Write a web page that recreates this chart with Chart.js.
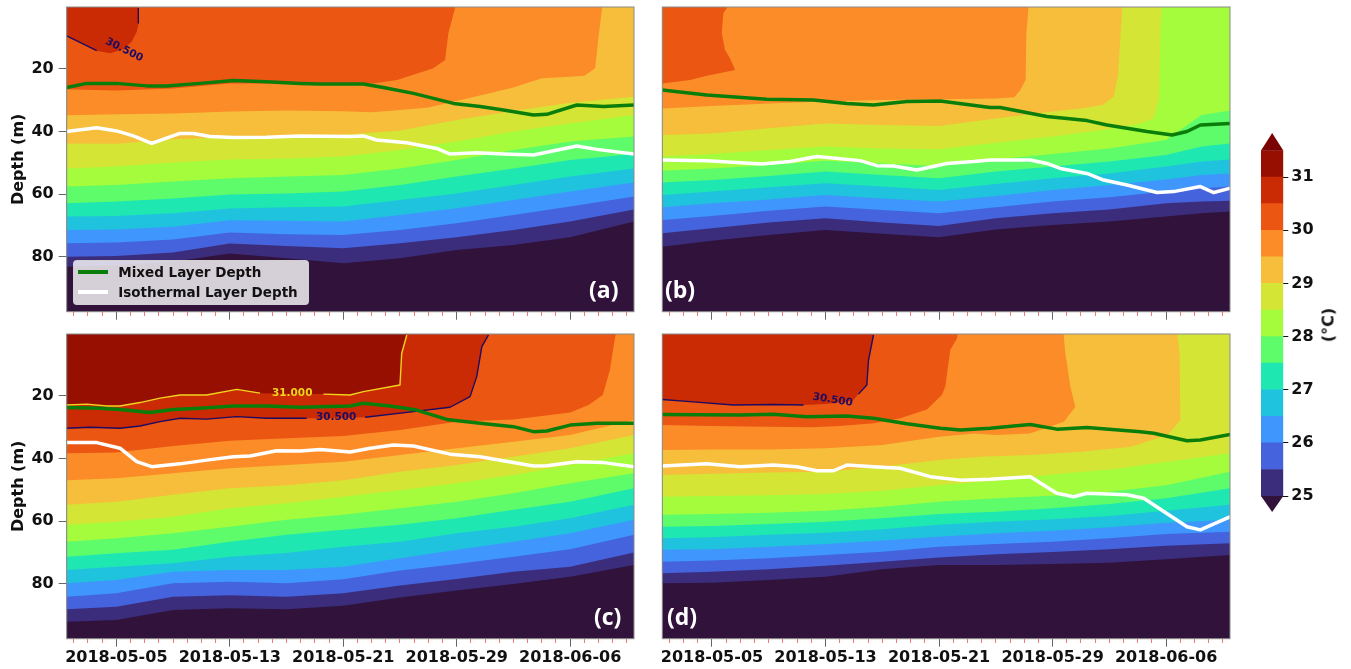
<!DOCTYPE html>
<html lang="en">
<head>
<meta charset="utf-8" />
<title>Temperature sections</title>
<script src="https://cdn.jsdelivr.net/npm/chart.js@4.4.1/dist/chart.umd.min.js"></script>
<style>
  * { margin: 0; padding: 0; box-sizing: border-box; }
  body { width: 1351px; height: 669px; overflow: hidden; position: relative; background: #fff; font-family: "DejaVu Sans", sans-serif; }
  .box { position: absolute; }
  .tag { position: absolute; color: #fff; font: 700 23px "Open Sans", sans-serif; line-height: 24px; z-index: 3; }
  #legend { position: absolute; left: 72.7px; top: 260px; width: 236px; height: 45px; background: rgba(255,255,255,0.8);
            border: 1px solid rgba(210,210,210,0.9); border-radius: 4px; z-index: 3; }
  #legend .ln { position: absolute; left: 4px; width: 30px; height: 4px; }
  #legend .tx { position: absolute; left: 44.6px; font: bold 13.5px "DejaVu Sans"; line-height: 16px; color: #111; white-space: nowrap; }
  #cblabel { position: absolute; left: 1328px; top: 325px; transform: translate(-50%, -50%) rotate(-90deg);
             font: bold 16px "DejaVu Sans"; color: #111; white-space: nowrap; }
</style>
</head>
<body>
<div class="box" style="left:0;top:0"><canvas id="pa" width="660" height="330"></canvas></div>
<div class="box" style="left:640px;top:0"><canvas id="pb" width="620" height="330"></canvas></div>
<div class="box" style="left:0;top:320px"><canvas id="pc" width="660" height="349"></canvas></div>
<div class="box" style="left:640px;top:320px"><canvas id="pd" width="620" height="349"></canvas></div>
<div class="box" style="left:1240px;top:120px"><canvas id="cbar" width="111" height="410"></canvas></div>
<div id="legend"></div>
<div class="tag" style="left:589px;top:277px">(a)</div>
<div class="tag" style="left:665px;top:277px">(b)</div>
<div class="tag" style="left:594px;top:604px">(c)</div>
<div class="tag" style="left:667px;top:604px">(d)</div>
<div id="cblabel">(°C)</div>

<script>
// contour levels (°C) and their fill colours (turbo)
const levels = [25, 25.5, 26, 26.5, 27, 27.5, 28, 28.5, 29, 29.5, 30, 30.5, 31];
const bandColors = ['#3b2d7c', '#4563dc', '#3f96fc', '#20c3dd', '#1ee7b1', '#5efc6a', '#a4fc3c',
                    '#d4e535', '#f6be3a', '#fb8c27', '#eb5613', '#ca2b04', '#960f01'];
const underColor = '#30123b';
const overColor = '#7a0403';
const contourColors = { 30.5: '#1d0b63', 31: '#f2d41c' };
const mldColor = '#0b7d0b';

// x = day number, day 0 = 2018-05-01
const majorDays = [4, 12, 20, 28, 36];
const dateLabels = ['2018-05-05', '2018-05-13', '2018-05-21', '2018-05-29', '2018-06-06'];
const tickDays = [];
for (let d = 1; d <= 40; d++) tickDays.push(d);
const depthTicks = [20, 40, 60, 80];
const cbarTicks = [25, 26, 27, 28, 29, 30, 31];

const X_MIN = 0.5, X_MAX = 40.5, Y_MIN = 0.18, Y_MAX = 97.6;

const gridDays = [0.5, 4, 8, 12, 16, 20, 24, 28, 32, 36, 40.5];
const gridDaysB = [0.5, 4, 8, 12, 16, 20, 24, 28, 32, 36, 38.5, 40.5];
function pairs(days, depths) { return depths.map((d, i) => [days[i], d]); }

// isotherm depths (m), one row per level (25 ... 31), [day, depth]
const isoA = [
  pairs(gridDays, [83.2, 82.7, 81.6, 79.0, 80.5, 82.1, 80.5, 77.9, 76.3, 73.8, 68.8]),
  pairs(gridDays, [80.0, 79.8, 78.7, 75.8, 76.6, 77.3, 75.7, 73.8, 71.5, 68.8, 64.9]),
  pairs(gridDays, [75.7, 75.5, 74.5, 72.3, 72.8, 73.1, 71.5, 69.3, 66.7, 64.0, 60.8]),
  pairs(gridDays, [71.5, 71.3, 70.4, 68.4, 68.5, 68.8, 66.7, 64.5, 61.9, 59.2, 56.3]),
  pairs(gridDays, [67.2, 67.0, 66.1, 64.6, 64.2, 64.0, 61.9, 59.8, 57.1, 54.4, 51.8]),
  pairs(gridDays, [62.9, 62.4, 61.4, 60.1, 59.8, 59.2, 57.1, 54.4, 51.8, 49.1, 47.2]),
  pairs(gridDays, [57.6, 57.1, 56.0, 54.9, 54.4, 53.9, 51.8, 49.1, 45.9, 43.2, 41.6]),
  pairs(gridDays, [51.8, 51.2, 49.9, 48.9, 48.6, 48.0, 45.9, 43.2, 40.0, 37.4, 34.7]),
  pairs(gridDays, [43.8, 43.9, 42.5, 41.8, 41.5, 41.0, 39.7, 36.3, 33.4, 30.8, 28.9]),
  [[0.5,34.8],[4,34.5],[8,34.2],[12,33.6],[16,33.3],[20,33.5],[22,33.8],[24,33.1],[26,32.3],[28,30.2],
   [30,28.1],[32,25.9],[34,23.0],[36,22.5],[37,22.2],[37.76,19.8],[38.0,9.7],[38.25,0.5]],
  [[0.5,26.5],[4,26.9],[8,26.2],[12,24.6],[16,24.6],[20,24.6],[22.1,24.6],[23.8,23.5],[26.35,19.8],
   [27.18,17.1],[27.41,8.6],[27.88,0.5]],
  [[0.5,9.45],[2.62,14.15],[3.55,14.98],[4.49,13.7],[5.08,11.27],[5.44,8.08],[5.58,5.29],[5.55,0.5]],
  []
];
const isoB = [
  pairs(gridDaysB, [76.8, 74.9, 73.1, 71.5, 72.7, 73.8, 71.3, 69.9, 68.8, 67.2, 66.1, 65.6]),
  pairs(gridDaysB, [72.5, 70.9, 69.1, 67.7, 69.1, 70.2, 67.7, 66.1, 64.9, 62.9, 62.4, 62.1]),
  pairs(gridDaysB, [68.3, 67.0, 65.3, 64.0, 65.1, 66.1, 64.2, 62.4, 61.0, 59.2, 58.1, 57.6]),
  pairs(gridDaysB, [64.2, 62.9, 61.7, 60.3, 61.4, 62.4, 60.6, 58.7, 57.1, 55.3, 53.9, 53.4]),
  pairs(gridDaysB, [60.3, 59.2, 57.8, 56.5, 57.6, 58.7, 56.8, 54.9, 53.4, 51.2, 49.6, 48.9]),
  pairs(gridDaysB, [56.3, 55.5, 54.2, 52.8, 53.9, 54.9, 52.8, 51.2, 49.6, 47.5, 44.8, 43.8]),
  pairs(gridDaysB, [52.5, 51.8, 50.7, 49.3, 50.2, 51.0, 48.9, 47.2, 45.4, 42.7, 34.7, 33.3]),
  [[0.5,48.0],[4,47.2],[8,45.9],[12,44.8],[16,45.4],[20,45.7],[24,43.55],[28,41.6],[32,39.3],
   [34.2,37.4],[35.1,35.8],[35.5,29.9],[35.6,8.6],[35.7,0.5]],
  [[0.5,41.1],[4,40.6],[8,38.97],[12,37.4],[16,37.9],[20,38.2],[24,35.8],[26,34.7],[28,33.6],[30,32.6],
   [31.5,31.5],[32.3,28.85],[32.6,22.5],[32.8,8.6],[32.9,0.5]],
  [[0.5,32.6],[4,31.8],[8,31.0],[12,30.4],[16,29.9],[20,29.7],[24,29.4],[25.3,29.0],[25.7,26.9],
   [26.1,23.5],[26.15,8.6],[26.3,0.5]],
  [[0.5,24.6],[2.45,23.5],[3.63,22.2],[5.63,20.3],[5.27,16.6],[4.92,13.9],[4.69,8.6],[4.8,2.2],[5.04,0.5]],
  [],
  []
];
const isoC = [
  pairs(gridDays, [92.2, 91.6, 88.4, 87.9, 88.2, 87.1, 84.4, 82.2, 80.1, 77.8, 74.0]),
  pairs(gridDays, [88.2, 87.4, 84.2, 83.7, 84.2, 83.1, 80.6, 78.5, 76.2, 74.6, 70.0]),
  pairs(gridDays, [84.2, 83.1, 79.9, 79.4, 79.9, 78.6, 75.8, 73.7, 71.4, 69.0, 64.4]),
  pairs(gridDays, [79.9, 78.8, 76.2, 75.6, 75.6, 74.6, 71.9, 69.2, 66.6, 63.9, 59.6]),
  pairs(gridDays, [75.6, 74.6, 73.5, 71.4, 70.2, 68.2, 66.6, 63.9, 61.8, 59.1, 54.8]),
  pairs(gridDays, [71.4, 70.3, 69.2, 66.6, 64.4, 62.8, 61.2, 59.1, 56.4, 53.8, 49.5]),
  pairs(gridDays, [66.6, 65.5, 63.9, 61.8, 59.6, 58.0, 55.9, 53.8, 51.1, 47.9, 44.7]),
  pairs(gridDays, [61.2, 60.2, 58.6, 55.9, 54.3, 52.2, 50.1, 47.9, 45.3, 42.1, 38.3]),
  pairs(gridDays, [54.8, 53.8, 51.6, 49.5, 48.5, 46.9, 44.2, 42.1, 39.4, 36.7, 32.5]),
  pairs(gridDays, [46.9, 46.3, 44.7, 43.1, 42.1, 41.0, 38.9, 36.7, 34.6, 32.5, 27.7]),
  [[0.5,38.3],[4,38.1],[8,36.0],[12,34.3],[16,33.5],[20,32.8],[24,30.9],[28,28.2],[32,27.5],[36,25.3],
   [37.3,22.9],[38.3,19.7],[38.8,11.7],[39.17,1.0],[39.2,0.5]],
  [[0.5,30.3],[2.15,30.0],[4.26,30.3],[5.67,29.6],[7.08,28.2],[8.49,27.1],[10.37,27.4],[12.49,26.6],
   [14.6,27.1],[17.42,27.1],[19.5,27.0],[21.54,26.8],[24.95,25.0],[27.53,23.6],[28.94,20.2],[29.41,13.8],
   [29.77,4.2],[30.24,0.5]],
  [[0.5,22.9],[1.91,22.6],[3.32,23.2],[4.26,23.2],[5.67,22.1],[7.08,20.7],[8.49,19.7],[10.37,19.7],
   [12.49,17.9],[14.13,19.1],[16.2,19.3],[18.6,19.4],[20.48,19.7],[21.42,18.6],[24.0,16.5],[24.12,6.4],
   [24.48,0.5]]
];
const isoD = [
  pairs(gridDays, [79.9, 79.7, 78.8, 77.8, 75.4, 74.0, 74.0, 73.7, 73.3, 72.2, 70.8]),
  pairs(gridDays, [76.7, 76.2, 75.4, 74.3, 73.0, 71.6, 70.6, 69.9, 69.0, 67.9, 67.1]),
  pairs(gridDays, [73.0, 72.6, 71.9, 70.8, 69.8, 68.2, 67.3, 66.6, 65.5, 64.1, 63.4]),
  pairs(gridDays, [69.2, 69.0, 68.2, 67.3, 66.2, 65.0, 63.9, 63.1, 62.0, 60.5, 59.6]),
  pairs(gridDays, [65.5, 65.2, 64.4, 63.7, 62.6, 61.2, 60.2, 59.4, 58.4, 56.7, 54.8]),
  pairs(gridDays, [61.8, 61.6, 60.9, 60.2, 59.1, 57.7, 57.0, 55.9, 54.5, 52.7, 49.5]),
  pairs(gridDays, [58.0, 57.7, 57.3, 56.7, 55.4, 53.8, 52.7, 51.9, 50.6, 48.5, 44.2]),
  pairs(gridDays, [52.2, 52.0, 51.7, 51.3, 50.3, 48.5, 47.0, 45.1, 43.5, 41.1, 38.3]),
  [[0.5,45.3],[4,44.9],[8,44.5],[12,44.2],[16,42.6],[20,40.5],[22.9,39.4],[26.4,38.9],[30,37.8],
   [33.5,36.2],[36.1,32.5],[37.0,27.7],[36.95,6.4],[36.8,0.5]],
  [[0.48,37.3],[4,37.1],[8,37.1],[12,36.7],[16,35.7],[20,33.0],[22.5,32.0],[24,32.5],[26.4,32.0],
   [28.8,28.2],[29.6,23.4],[29.25,17.0],[28.9,6.4],[28.78,0.5]],
  [[0.48,29.3],[4,29.6],[8,29.8],[11,30.0],[13,29.6],[15.4,28.7],[17.26,27.1],[19.14,24.3],[20.2,19.7],
   [20.44,17.0],[20.79,5.3],[21.26,1.6],[21.3,0.5]],
  [[0.48,21.1],[2.45,21.8],[5.51,22.9],[8.33,22.7],[10.45,22.9],[12.0,22.6],[13.9,21.6],[14.32,19.4],
   [14.91,16.5],[15.03,8.5],[15.38,0.5]],
  []
];

// mixed layer depth (m)
const mldA = [[0.5,25.9],[1.91,24.6],[4.03,24.6],[6.14,25.4],[7.55,25.4],[9.9,24.6],[12.25,23.7],[14.6,24.05],
  [16.96,24.6],[18.37,24.8],[21.42,24.8],[22.83,25.9],[24.95,27.8],[27.77,31.0],[29.65,32.0],[31.29,33.1],
  [33.41,34.7],[34.35,34.5],[36.47,31.5],[38.35,32.0],[40.5,31.5]];
const mldB = [[0.48,26.7],[3.63,28.3],[7.86,29.7],[11.15,29.9],[13.5,31.0],[15.38,31.5],[17.73,30.4],
  [20.08,30.2],[23.6,32.3],[24.31,32.3],[27.6,35.2],[30.42,36.5],[31.83,37.9],[34.65,40.0],[36.42,41.1],
  [37.47,40.0],[38.41,37.9],[40.53,37.4]];
const mldC = [[0.5,23.7],[2.85,23.9],[4.26,24.3],[6.38,25.3],[8.02,24.3],[9.9,23.9],[12.25,23.2],[14.6,23.2],
  [16.96,23.6],[20.48,23.2],[21.42,22.3],[23.3,23.2],[25.18,24.5],[27.3,27.5],[29.65,28.7],[32.0,29.8],
  [33.41,31.4],[34.35,31.2],[36.0,29.3],[37.88,28.7],[40.5,28.7]];
const mldD = [[0.48,25.9],[5.98,26.1],[8.33,25.8],[10.68,26.6],[13.5,26.4],[15.38,27.1],[17.73,28.9],
  [20.08,30.3],[21.5,30.9],[23.6,30.3],[25.25,29.6],[26.43,29.1],[28.3,30.6],[30.42,30.1],[34.18,31.4],
  [35.12,31.9],[37.47,34.3],[38.41,34.1],[40.53,32.3]];

// isothermal layer depth (m)
const ildA = [[0.5,40.0],[2.62,38.8],[4.03,39.8],[5.2,41.4],[6.49,43.8],[8.49,40.6],[9.43,40.6],[10.61,41.6],
  [12.25,41.9],[14.6,41.8],[16.96,41.4],[20.48,41.6],[21.42,41.4],[22.36,42.7],[24.48,43.6],[26.59,45.4],
  [27.53,47.2],[29.41,46.8],[31.29,47.2],[33.41,47.5],[36.47,44.6],[37.88,45.7],[40.5,47.2]];
const ildB = [[0.48,49.1],[3.63,49.3],[7.51,50.4],[9.5,49.6],[11.39,48.0],[14.44,49.3],[15.62,50.9],
  [16.8,51.0],[18.44,52.3],[20.55,50.2],[22.43,49.6],[23.6,49.1],[26.43,49.1],[27.6,50.2],[28.54,51.8],
  [30.42,53.4],[31.6,55.5],[33.24,57.1],[35.36,59.5],[36.53,59.2],[38.41,57.6],[39.36,59.5],[40.53,58.1]];
const ildC = [[0.5,34.9],[2.62,34.9],[4.26,36.7],[5.44,41.0],[6.49,42.6],[8.49,41.7],[10.37,40.5],
  [12.25,39.4],[13.43,39.2],[15.31,37.5],[16.96,37.6],[18.37,37.1],[20.48,37.9],[21.9,36.7],[23.54,35.7],
  [24.95,36.0],[27.53,38.6],[29.65,39.4],[33.41,42.4],[34.35,42.3],[36.47,41.0],[38.35,41.3],[40.5,42.6]];
const ildD = [[0.48,42.4],[3.63,41.7],[5.98,42.6],[8.33,42.1],[9.98,42.6],[11.39,43.9],[12.56,43.9],
  [13.5,42.1],[15.38,42.6],[17.26,43.1],[19.38,45.8],[21.5,46.9],[23.6,46.6],[26.43,45.8],[28.3,51.1],
  [29.48,52.2],[30.42,51.1],[33.24,51.6],[34.42,52.7],[37.47,61.8],[38.41,62.8],[40.53,58.6]];

// labelled contour lines: hidden segment range (point index) where the label sits
const contoursA = [{ level: 30.5, hide: [1, 6], text: '30.500', day: 4.55, depth: 13.9, angle: 27 }];
const contoursB = [];
const contoursC = [
  { level: 31, hide: [9, 11], text: '31.000', day: 16.4, depth: 19.2, angle: 0 },
  { level: 30.5, hide: [9, 11], text: '30.500', day: 19.5, depth: 26.9, angle: 0 }
];
const contoursD = [{ level: 30.5, hide: [4, 7], text: '30.500', day: 12.5, depth: 21.3, angle: 9 }];

const legendItems = [
  { label: 'Mixed Layer Depth', color: mldColor },
  { label: 'Isothermal Layer Depth', color: '#ffffff' }
];

const tickFont = { family: 'DejaVu Sans', size: 16, weight: 'bold' };
const toXY = pts => pts.map(p => ({ x: p[0], y: p[1] }));

const bgPlugin = {
  id: 'bg',
  beforeDraw(c) {
    const a = c.chartArea, ctx = c.ctx;
    ctx.save();
    ctx.fillStyle = underColor;
    ctx.fillRect(a.left, a.top, a.right - a.left, a.bottom - a.top);
    ctx.restore();
  }
};
const framePlugin = {
  id: 'frame',
  afterDraw(c) {
    const a = c.chartArea, ctx = c.ctx;
    ctx.save();
    ctx.strokeStyle = '#8a8a8a';
    ctx.lineWidth = 1;
    ctx.strokeRect(a.left, a.top, a.right - a.left, a.bottom - a.top);
    ctx.restore();
  }
};
function labelPlugin(items) {
  return {
    id: 'clabels',
    afterDatasetsDraw(c) {
      const ctx = c.ctx, x = c.scales.x, y = c.scales.y;
      items.forEach(it => {
        ctx.save();
        ctx.translate(x.getPixelForValue(it.day), y.getPixelForValue(it.depth));
        ctx.rotate(it.angle * Math.PI / 180);
        ctx.font = 'bold 10.5px "DejaVu Sans"';
        ctx.fillStyle = contourColors[it.level];
        ctx.textAlign = 'center';
        ctx.textBaseline = 'middle';
        ctx.fillText(it.text, 0, 0);
        ctx.restore();
      });
    }
  };
}

function makePanel(id, cfg) {
  const ds = [];
  ds.push({ data: toXY(cfg.mld), borderColor: mldColor, borderWidth: 3.5, pointRadius: 0, fill: false });
  ds.push({ data: toXY(cfg.ild), borderColor: '#ffffff', borderWidth: 3.5, pointRadius: 0, fill: false });
  cfg.contours.forEach(ct => {
    const pts = cfg.iso[levels.indexOf(ct.level)];
    ds.push({
      data: toXY(pts), borderColor: contourColors[ct.level], borderWidth: 1.4, pointRadius: 0, fill: false,
      segment: { borderColor: s => (s.p0DataIndex >= ct.hide[0] && s.p0DataIndex < ct.hide[1]) ? 'rgba(0,0,0,0)' : undefined }
    });
  });
  // warm levels first so they are painted on top
  for (let i = levels.length - 1; i >= 0; i--) {
    const pts = cfg.iso[i];
    if (!pts.length) continue;
    const data = toXY(pts);
    data.push({ x: pts[pts.length - 1][0], y: Y_MIN - 2 }, { x: pts[0][0], y: Y_MIN - 2 });
    ds.push({ data, fill: 'shape', backgroundColor: bandColors[i], borderColor: 'rgba(0,0,0,0)',
              borderWidth: 0, pointRadius: 0 });
  }

  new Chart(document.getElementById(id), {
    type: 'line',
    data: { datasets: ds },
    options: {
      responsive: false,
      animation: false,
      events: [],
      elements: { line: { tension: 0, borderJoinStyle: 'round' } },
      layout: { padding: cfg.pad },
      plugins: { legend: { display: false }, tooltip: { enabled: false } },
      scales: {
        x: {
          type: 'linear', min: X_MIN, max: X_MAX,
          afterBuildTicks: s => { s.ticks = tickDays.map(v => ({ value: v })); },
          afterFit: s => { s.height = cfg.xH; s.paddingLeft = 0; s.paddingRight = 0; },
          ticks: {
            display: cfg.showX, autoSkip: false, maxRotation: 0, minRotation: 0, padding: 2,
            color: '#111', font: tickFont,
            callback: v => { const k = majorDays.indexOf(v); return k >= 0 ? dateLabels[k] : ''; }
          },
          grid: {
            drawOnChartArea: false, tickLength: 8, tickWidth: 1,
            tickColor: c => majorDays.includes(c.tick.value) ? '#666' : '#f47a7a',
            tickBorderDash: c => majorDays.includes(c.tick.value) ? [] : [4, 40]
          },
          border: { display: false }
        },
        y: {
          type: 'linear', reverse: true, min: Y_MIN, max: Y_MAX,
          display: cfg.showY,
          afterBuildTicks: s => { s.ticks = depthTicks.map(v => ({ value: v })); },
          afterFit: s => { s.width = cfg.yW; s.paddingTop = 0; s.paddingBottom = 0; },
          ticks: { padding: 5, color: '#111', font: tickFont },
          grid: { drawOnChartArea: false, tickLength: 8, tickColor: '#666' },
          border: { display: false },
          title: { display: true, text: 'Depth (m)', color: '#111', font: tickFont, padding: { top: 9, bottom: 0 } }
        }
      }
    },
    plugins: [bgPlugin, framePlugin, labelPlugin(cfg.contours)]
  });
}

makePanel('pa', { iso: isoA, mld: mldA, ild: ildA, contours: contoursA, showX: false, showY: true,
  pad: { left: 0, top: 7, right: 26, bottom: 0 }, xH: 18.3, yW: 66.7 });
makePanel('pb', { iso: isoB, mld: mldB, ild: ildB, contours: contoursB, showX: false, showY: false,
  pad: { left: 22.3, top: 7, right: 30, bottom: 0 }, xH: 18.3, yW: 0 });
makePanel('pc', { iso: isoC, mld: mldC, ild: ildC, contours: contoursC, showX: true, showY: true,
  pad: { left: 0, top: 14, right: 26, bottom: 0 }, xH: 30.3, yW: 66.7 });
makePanel('pd', { iso: isoD, mld: mldD, ild: ildD, contours: contoursD, showX: true, showY: false,
  pad: { left: 22.3, top: 14, right: 30, bottom: 0 }, xH: 30.3, yW: 0 });

// colour bar
const extendPlugin = {
  id: 'extend',
  afterDatasetsDraw(c) {
    const ctx = c.ctx, a = c.chartArea, y = c.scales.y;
    const mid = (a.left + a.right) / 2;
    const yLo = y.getPixelForValue(levels[0]);
    const yHi = y.getPixelForValue(levels[levels.length - 1] + 0.5);
    ctx.save();
    ctx.fillStyle = underColor;
    ctx.beginPath(); ctx.moveTo(a.left, yLo); ctx.lineTo(a.right, yLo); ctx.lineTo(mid, a.bottom); ctx.closePath(); ctx.fill();
    ctx.fillStyle = overColor;
    ctx.beginPath(); ctx.moveTo(a.left, yHi); ctx.lineTo(a.right, yHi); ctx.lineTo(mid, a.top); ctx.closePath(); ctx.fill();
    ctx.restore();
  }
};
new Chart(document.getElementById('cbar'), {
  type: 'bar',
  data: {
    labels: [''],
    datasets: levels.map((l, i) => ({ data: [[l, l + 0.5]], backgroundColor: bandColors[i], borderWidth: 0,
      barPercentage: 1, categoryPercentage: 1 }))
  },
  options: {
    responsive: false, animation: false, events: [],
    layout: { padding: { left: 21, top: 13, right: 0, bottom: 18 } },
    plugins: { legend: { display: false }, tooltip: { enabled: false } },
    scales: {
      x: { display: false, stacked: true },
      y: {
        position: 'right', min: 24.7, max: 31.83,
        afterBuildTicks: s => { s.ticks = cbarTicks.map(v => ({ value: v })); },
        afterFit: s => { s.width = 67.7; s.paddingTop = 0; s.paddingBottom = 0; },
        ticks: { padding: 3, color: '#111', font: tickFont },
        grid: { drawOnChartArea: false, tickLength: 5, tickColor: '#111' },
        border: { display: false }
      }
    }
  },
  plugins: [extendPlugin]
});

// legend
const leg = document.getElementById('legend');
legendItems.forEach((it, i) => {
  const ln = document.createElement('div');
  ln.className = 'ln';
  ln.style.top = (8.7 + i * 20) + 'px';
  ln.style.background = it.color;
  leg.appendChild(ln);
  const tx = document.createElement('div');
  tx.className = 'tx';
  tx.style.top = (2.7 + i * 20) + 'px';
  tx.textContent = it.label;
  leg.appendChild(tx);
});
</script>
</body>
</html>
